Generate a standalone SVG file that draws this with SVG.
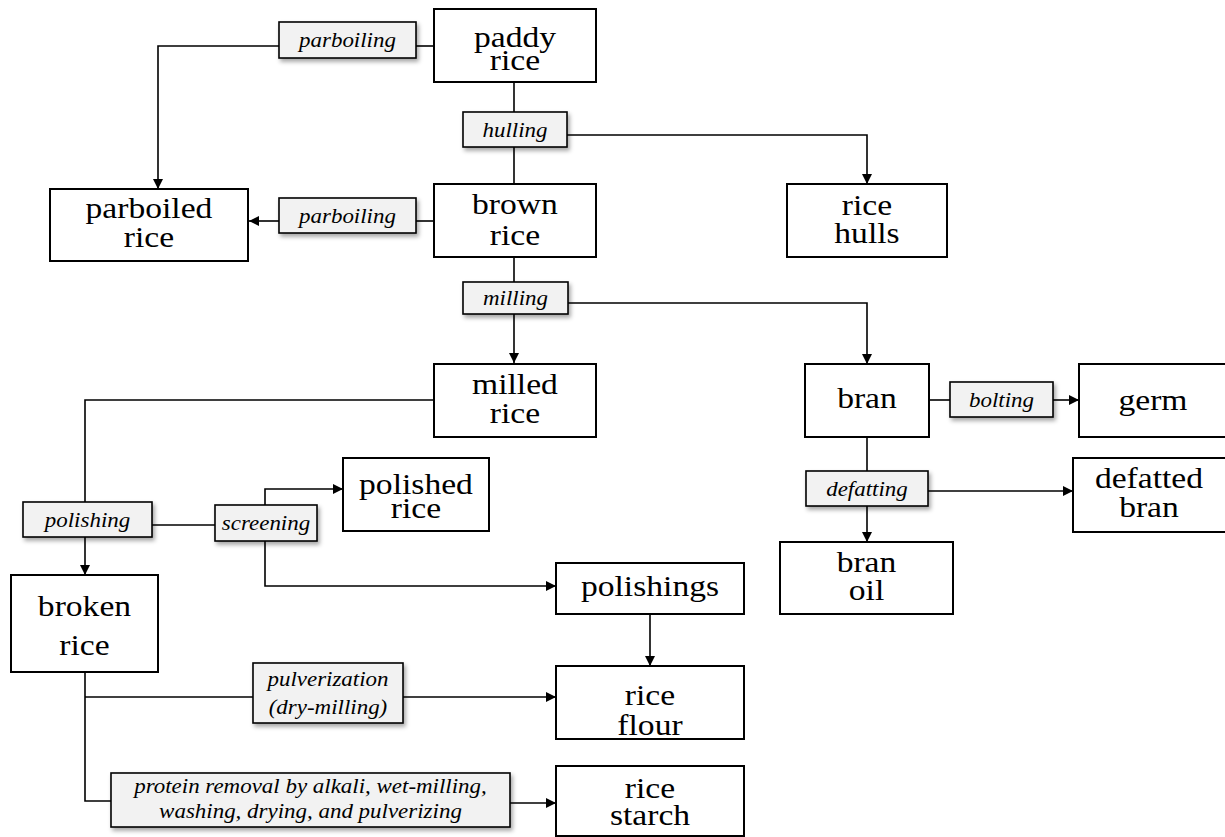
<svg xmlns="http://www.w3.org/2000/svg" width="1225" height="837" viewBox="0 0 1225 837">
<style>
  .node rect { fill: #ffffff; stroke: #000000; stroke-width: 2; }
  .lbl rect { fill: #f2f2f2; stroke: #000000; stroke-width: 1.6; filter: url(#sh); }
  text { text-anchor: middle; fill: #000; }
  .n { font-size: 30px; }
  .l { font-size: 20.5px; font-style: italic; }
  .conn path { fill: none; stroke: #000000; stroke-width: 1.6; }
  .arr { marker-end: url(#ah); }
</style>
<defs>
  <marker id="ah" viewBox="0 0 10 10" refX="10" refY="5" markerWidth="10" markerHeight="10" markerUnits="userSpaceOnUse" orient="auto">
    <path d="M0,0 L10,5 L0,10 Z" fill="#000"/>
  </marker>
  <filter id="sh" x="-10%" y="-20%" width="130%" height="160%">
    <feDropShadow dx="2" dy="3" stdDeviation="2" flood-color="#000" flood-opacity="0.35"/>
  </filter>
</defs>
<rect width="1225" height="837" fill="#ffffff"/>

<g class="conn">
  <path d="M433,46 H416"/>
  <path class="arr" d="M279,46 H158 V189"/>
  <path d="M514,82 V112"/>
  <path d="M514,147 V184"/>
  <path class="arr" d="M567,135 H867 V184"/>
  <path d="M434,221 H416"/>
  <path class="arr" d="M279,221 H249"/>
  <path d="M514,257 V282"/>
  <path class="arr" d="M514,314 V363"/>
  <path class="arr" d="M568,303 H867 V364"/>
  <path d="M929,400 H950"/>
  <path class="arr" d="M1053,400 H1079"/>
  <path d="M867,437 V471"/>
  <path class="arr" d="M867,506 V542"/>
  <path class="arr" d="M928,491 H1073"/>
  <path d="M433,400 H85 V502"/>
  <path class="arr" d="M85,537 V575"/>
  <path d="M152,525 H215"/>
  <path class="arr" d="M265,505 V489 H343"/>
  <path class="arr" d="M265,541 V586 H556"/>
  <path class="arr" d="M650,614 V666"/>
  <path d="M85,672 V801 H111"/>
  <path d="M85,697 H253"/>
  <path class="arr" d="M403,697 H556"/>
  <path class="arr" d="M510,803 H556"/>
</g>

<g font-family="'Liberation Serif', 'Times New Roman', 'DejaVu Serif', serif">
<g id="paddy-rice" class="node"><rect x="434" y="9" width="162" height="73"/><text class="n" transform="matrix(1.12 0 0 1 -61.8 0)" x="515" y="47">paddy</text><text class="n" transform="matrix(1.12 0 0 1 -61.8 0)" x="515" y="70">rice</text></g>
<g id="brown-rice" class="node"><rect x="434" y="184" width="162" height="73"/><text class="n" transform="matrix(1.12 0 0 1 -61.8 0)" x="515" y="214">brown</text><text class="n" transform="matrix(1.12 0 0 1 -61.8 0)" x="515" y="245">rice</text></g>
<g id="parboiled-rice" class="node"><rect x="50" y="189" width="198" height="72"/><text class="n" transform="matrix(1.12 0 0 1 -17.88 0)" x="149" y="218">parboiled</text><text class="n" transform="matrix(1.12 0 0 1 -17.88 0)" x="149" y="247">rice</text></g>
<g id="rice-hulls" class="node"><rect x="787" y="184" width="160" height="73"/><text class="n" transform="matrix(1.12 0 0 1 -104.04 0)" x="867" y="215">rice</text><text class="n" transform="matrix(1.12 0 0 1 -104.04 0)" x="867" y="243">hulls</text></g>
<g id="milled-rice" class="node"><rect x="434" y="364" width="162" height="73"/><text class="n" transform="matrix(1.12 0 0 1 -61.8 0)" x="515" y="394">milled</text><text class="n" transform="matrix(1.12 0 0 1 -61.8 0)" x="515" y="423">rice</text></g>
<g id="bran" class="node"><rect x="805" y="364" width="124" height="73"/><text class="n" transform="matrix(1.12 0 0 1 -104.04 0)" x="867" y="408">bran</text></g>
<g id="germ" class="node"><rect x="1079" y="364" width="160" height="73"/><text class="n" transform="matrix(1.12 0 0 1 -138.36 0)" x="1153" y="410">germ</text></g>
<g id="defatted-bran" class="node"><rect x="1073" y="458" width="166" height="74"/><text class="n" transform="matrix(1.12 0 0 1 -137.88 0)" x="1149" y="488">defatted</text><text class="n" transform="matrix(1.12 0 0 1 -137.88 0)" x="1149" y="517">bran</text></g>
<g id="bran-oil" class="node"><rect x="780" y="542" width="173" height="72"/><text class="n" transform="matrix(1.12 0 0 1 -103.98 0)" x="866.5" y="572">bran</text><text class="n" transform="matrix(1.12 0 0 1 -103.98 0)" x="866.5" y="600">oil</text></g>
<g id="polished-rice" class="node"><rect x="343" y="458" width="146" height="73"/><text class="n" transform="matrix(1.12 0 0 1 -49.92 0)" x="416" y="494">polished</text><text class="n" transform="matrix(1.12 0 0 1 -49.92 0)" x="416" y="518">rice</text></g>
<g id="polishings" class="node"><rect x="556" y="563" width="188" height="51"/><text class="n" transform="matrix(1.12 0 0 1 -78 0)" x="650" y="596">polishings</text></g>
<g id="broken-rice" class="node"><rect x="11" y="575" width="147" height="97"/><text class="n" transform="matrix(1.12 0 0 1 -10.14 0)" x="84.5" y="616">broken</text><text class="n" transform="matrix(1.12 0 0 1 -10.14 0)" x="84.5" y="655">rice</text></g>
<g id="rice-flour" class="node"><rect x="556" y="666" width="188" height="73"/><text class="n" transform="matrix(1.12 0 0 1 -78 0)" x="650" y="705">rice</text><text class="n" transform="matrix(1.12 0 0 1 -78 0)" x="650" y="735">flour</text></g>
<g id="rice-starch" class="node"><rect x="556" y="766" width="188" height="70"/><text class="n" transform="matrix(1.12 0 0 1 -78 0)" x="650" y="798">rice</text><text class="n" transform="matrix(1.12 0 0 1 -78 0)" x="650" y="825">starch</text></g>

<g id="lbl-parboiling-1" class="lbl"><rect x="279" y="22" width="137" height="36"/><text class="l" transform="matrix(1.12 0 0 1 -41.7 0)" x="347.5" y="47">parboiling</text></g>
<g id="lbl-parboiling-2" class="lbl"><rect x="279" y="198" width="137" height="35"/><text class="l" transform="matrix(1.12 0 0 1 -41.7 0)" x="347.5" y="223">parboiling</text></g>
<g id="lbl-hulling" class="lbl"><rect x="463" y="112" width="104" height="35"/><text class="l" transform="matrix(1.12 0 0 1 -61.8 0)" x="515" y="137">hulling</text></g>
<g id="lbl-milling" class="lbl"><rect x="463" y="282" width="105" height="32"/><text class="l" transform="matrix(1.12 0 0 1 -61.86 0)" x="515.5" y="305">milling</text></g>
<g id="lbl-bolting" class="lbl"><rect x="950" y="382" width="103" height="35"/><text class="l" transform="matrix(1.12 0 0 1 -120.18 0)" x="1001.5" y="407">bolting</text></g>
<g id="lbl-defatting" class="lbl"><rect x="806" y="471" width="122" height="35"/><text class="l" transform="matrix(1.12 0 0 1 -104.04 0)" x="867" y="496">defatting</text></g>
<g id="lbl-polishing" class="lbl"><rect x="23" y="502" width="129" height="35"/><text class="l" transform="matrix(1.12 0 0 1 -10.5 0)" x="87.5" y="527">polishing</text></g>
<g id="lbl-screening" class="lbl"><rect x="215" y="505" width="102" height="36"/><text class="l" transform="matrix(1.12 0 0 1 -31.92 0)" x="266" y="530">screening</text></g>
<g id="lbl-pulverization" class="lbl"><rect x="253" y="663" width="150" height="60"/><text class="l" transform="matrix(1.12 0 0 1 -39.36 0)" x="328" y="686">pulverization</text><text class="l" transform="matrix(1.12 0 0 1 -39.36 0)" x="328" y="714">(dry-milling)</text></g>
<g id="lbl-protein" class="lbl"><rect x="111" y="773" width="399" height="54"/><text class="l" transform="matrix(1.12 0 0 1 -37.26 0)" x="310.5" y="793">protein removal by alkali, wet-milling,</text><text class="l" transform="matrix(1.12 0 0 1 -37.26 0)" x="310.5" y="818">washing, drying, and pulverizing</text></g>
</g>
</svg>
